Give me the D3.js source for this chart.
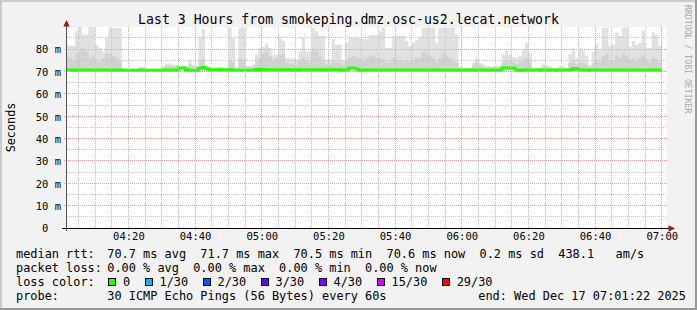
<!DOCTYPE html>
<html>
<head>
<meta charset="utf-8">
<script src="https://cdn.jsdelivr.net/npm/d3@7"></script>
<style>
  html, body { margin: 0; padding: 0; background: #f2f2f2; }
  svg { display: block; }
  text { font-family: 'DejaVu Sans Mono', monospace; white-space: pre; }
</style>
</head>
<body>
<div id="svg-container"></div>
<script>
// #Data (ms, one value per minute, 04:02 .. 07:00)
const titleText = 'Last 3 Hours from smokeping.dmz.osc-us2.lecat.network';
const xTickLabels = ['04:20', '04:40', '05:00', '05:20', '05:40', '06:00', '06:20', '06:40', '07:00'];
const yTickValues = [0, 10, 20, 30, 40, 50, 60, 70, 80];
const yTickLabels = ['0  ', '10 m', '20 m', '30 m', '40 m', '50 m', '60 m', '70 m', '80 m'];

const medianRtt = [
  70.7, 70.7, 70.7, 70.7, 70.7, 70.7, 70.7, 70.7, 70.7, 70.7,
  70.7, 70.7, 70.7, 70.7, 70.7, 70.7, 70.7, 70.6, 70.6, 70.6,
  70.6, 70.6, 70.6, 70.6, 70.6, 70.6, 70.6, 70.6, 70.6, 70.7,
  70.7, 70.7, 70.7, 70.7, 71.6, 71.6, 70.9, 70.6, 70.5, 70.5,
  71.5, 71.8, 71.2, 70.8, 70.7, 70.8, 70.8, 70.8, 70.8, 70.8,
  70.6, 70.6, 70.6, 70.6, 70.6, 70.6, 70.6, 70.9, 71.0, 70.9,
  70.8, 70.8, 70.8, 70.8, 70.8, 70.8, 70.8, 70.8, 70.8, 70.8,
  70.8, 70.8, 70.8, 70.8, 70.8, 70.8, 70.8, 70.8, 70.8, 70.8,
  70.8, 70.8, 70.8, 70.8, 70.8, 71.6, 71.6, 71.1, 70.7, 70.7,
  70.7, 70.7, 70.7, 70.7, 70.7, 70.7, 70.7, 70.7, 70.7, 70.7,
  70.7, 70.7, 70.7, 70.7, 70.7, 70.7, 70.7, 70.7, 70.7, 70.7,
  70.7, 70.7, 70.7, 70.7, 70.7, 70.7, 70.7, 70.7, 70.7, 70.7,
  70.7, 70.7, 70.7, 70.7, 70.7, 70.7, 70.7, 70.7, 70.7, 70.7,
  70.7, 71.6, 71.6, 71.6, 71.6, 70.7, 70.7, 70.7, 70.7, 70.7,
  70.7, 70.7, 70.7, 70.7, 70.7, 70.7, 70.7, 70.7, 70.7, 70.7,
  70.7, 70.7, 71.2, 71.2, 70.7, 70.7, 70.7, 70.7, 70.7, 70.7,
  70.7, 70.7, 70.7, 70.7, 70.7, 70.7, 70.7, 70.7, 70.7, 70.7,
  70.7, 70.7, 70.7, 70.7, 70.7, 70.7, 70.7, 70.7, 70.7
];

// upper edge of the inner (darker) smoke band
const smokeMid = [
  77, 76, 75, 78, 79, 80, 79, 76, 77, 75,
  74, 76, 78, 78, 77, 76, 75, 71.2, 71.1, 71.1,
  71.1, 71.1, 71.5, 71.5, 71.2, 71.1, 71.1, 71.1, 71.2, 71.8,
  72.3, 72.3, 72.2, 72.2, 71.9, 71.9, 71.8, 73, 72, 72,
  75, 76, 71.8, 71.6, 71.6, 71.5, 71.5, 71.4, 71.4, 75,
  74, 71.5, 76, 75, 72, 72, 72, 74, 76, 78,
  79, 77, 75, 76, 77, 78, 74, 73.5, 73, 73,
  75, 76, 75, 74, 80, 79, 77, 75, 73, 73,
  75, 74, 74, 73, 75, 76, 77, 76, 76, 75,
  76, 77, 77, 76, 76, 75, 74, 74, 76, 75,
  75, 74, 75, 74, 75, 76, 76, 79, 78, 77,
  76, 74, 76, 78, 77, 76, 75, 74, 71.3, 71.2,
  71.2, 71.2, 72.5, 74, 73, 72.3, 71.8, 71.8, 71.8, 71.8,
  71.8, 74, 75, 74.5, 74, 73.5, 74, 75, 76, 74,
  71.3, 71.3, 71.3, 72.3, 72, 71.8, 71.4, 71.4, 71.6, 71.6,
  71.4, 74, 75, 73.5, 74, 74, 73, 71.8, 73.5, 75,
  74, 77, 78, 75, 75, 77, 76, 78, 77, 75,
  76, 75, 76, 77, 75, 74, 76, 75, 74
];

// upper edge of the outer (light) smoke band = slowest ping
const smokeMax = [
  82, 81.5, 81.5, 88, 90, 86.5, 86.5, 90, 90, 82,
  80.5, 79, 85, 89.5, 89.5, 89.5, 89.5, 71.4, 71.3, 71.3,
  71.3, 71.3, 72, 72, 71.4, 71.3, 71.3, 71.3, 71.4, 72.5,
  73.6, 73.6, 73, 73, 72.5, 72.5, 72.5, 75, 73, 72.5,
  85.5, 89, 72.5, 72, 72, 72, 72, 71.8, 71.8, 89.5,
  85, 72, 89.5, 89.5, 72.5, 72.5, 73, 77.6, 80.5, 81,
  82.4, 80.5, 77.5, 77.5, 85.4, 83.6, 76, 76, 75.5, 75.4,
  79, 85, 79, 79, 89.6, 88, 86, 86, 75.4, 75.4,
  84.4, 82, 82, 75, 82.9, 85, 85, 85, 85, 84.4,
  84.4, 86.3, 86.3, 86.3, 88, 89.6, 80.6, 80.6, 86, 86,
  86, 86, 83.6, 81.4, 82.9, 84, 85, 89.6, 89.6, 89.6,
  89.6, 82.9, 89.6, 89.6, 89.6, 89.6, 89.6, 86.6, 72, 71.7,
  71.7, 71.7, 73.9, 75.8, 73.9, 73, 72.4, 72.4, 72.4, 72.4,
  72.4, 77.6, 79.5, 77.6, 76.5, 76.3, 76.9, 79.9, 82.9, 78.4,
  71.8, 71.8, 71.8, 73.5, 72.9, 72.4, 71.6, 71.6, 72.4, 72.4,
  71.6, 77.6, 80.3, 75.8, 80.6, 79.5, 76.9, 72.9, 79, 82.4,
  80, 89.6, 89.6, 81.4, 82, 87.4, 85.9, 89.6, 89.6, 81,
  83.6, 82, 82.9, 88.4, 80.6, 80.6, 87.4, 86.3, 81.4
];

const rttStats = ['70.7 ms avg', '71.7 ms max', '70.5 ms min', '70.6 ms now', '0.2 ms sd', '438.1   am/s'];
const lossStats = ['0.00 % avg', '0.00 % max', '0.00 % min', '0.00 % now'];
const lossLabels = ['0', '1/30', '2/30', '3/30', '4/30', '15/30', '29/30'];
const lossColors = ['#26ff00', '#00b8ff', '#0059ff', '#5e00ff', '#7e00ff', '#dd00ff', '#ff0000'];
const probeText = '30 ICMP Echo Pings (56 Bytes) every 60s';
const endText = 'end: Wed Dec 17 07:01:22 2025';

// #Set SVG dimensions
const w = 697;
const h = 310;
const plot = {left: 67, right: 667, top: 27, bottom: 228};
const charW = 7.15;

const svg = d3.select('#svg-container')
              .append('svg')
              .attr('width', w)
              .attr('height', h);

// #Background and shaded frame
svg.append('rect').attr('width', w).attr('height', h).attr('fill', '#f2f2f2');
svg.append('path').attr('d', 'M0,0H' + w + 'V2H2V' + h + 'H0Z').attr('fill', '#cbcbcb');
svg.append('path').attr('d', 'M' + w + ',' + h + 'H0V' + (h - 2) + 'H' + (w - 2) + 'V0H' + w + 'Z').attr('fill', '#999999');

svg.append('rect')
   .attr('x', plot.left)
   .attr('y', plot.top)
   .attr('width', plot.right - plot.left)
   .attr('height', plot.bottom - plot.top)
   .attr('fill', '#ffffff');

// #Scales
const day = new Date(2025, 11, 17);
const at = (hh, mm, ss) => new Date(2025, 11, 17, hh, mm, ss || 0);
const xScale = d3.scaleTime()
                 .domain([at(4, 1, 35), at(7, 1, 35)])
                 .range([plot.left, plot.right]);
const yScale = d3.scaleLinear()
                 .domain([0, 90])
                 .range([plot.bottom, 26.8]);

const stepEnds = d3.timeMinute.range(at(4, 2), at(7, 1));
const rows = stepEnds.map((t, i) => ({
  t0: d3.timeMinute.offset(t, -1),
  median: medianRtt[i],
  mid: smokeMid[i],
  max: smokeMax[i]
}));
// closing point so the last step gets its full width
rows.push(Object.assign({}, rows[rows.length - 1], {t0: stepEnds[stepEnds.length - 1]}));

svg.append('clipPath')
   .attr('id', 'clip')
   .append('rect')
   .attr('x', plot.left)
   .attr('y', plot.top)
   .attr('width', plot.right - plot.left)
   .attr('height', plot.bottom - plot.top);

const chart = svg.append('g').attr('clip-path', 'url(#clip)');

// #Smoke
const smokeArea = key => d3.area()
                           .curve(d3.curveStepAfter)
                           .x(d => xScale(d.t0))
                           .y0(d => yScale(d.median))
                           .y1(d => yScale(d[key]));
chart.append('path')
     .attr('d', smokeArea('max')(rows))
     .attr('fill', '#e1e1e1');
chart.append('path')
     .attr('d', smokeArea('mid')(rows))
     .attr('fill', '#d2d2d2');

// #Grid (dotted, over the smoke like rrdtool does)
const px = v => Math.floor(v) + 0.5;
const grid = svg.append('g').attr('stroke-dasharray', '1,1').attr('stroke-width', 1);
const minorTimes = d3.timeMinute.every(5).range(xScale.domain()[0], xScale.domain()[1]);
const majorTimes = xTickLabels.map(s => d3.timeParse('%H:%M')(s)).map(t => at(t.getHours(), t.getMinutes()));

grid.selectAll('.vminor')
    .data(minorTimes.filter(t => t.getMinutes() % 20 !== 0))
    .enter().append('line')
    .attr('x1', d => px(xScale(d))).attr('x2', d => px(xScale(d)))
    .attr('y1', plot.top).attr('y2', plot.bottom)
    .attr('stroke', '#c4c4c4');
grid.selectAll('.hminor')
    .data(d3.range(5, 90, 10))
    .enter().append('line')
    .attr('x1', plot.left).attr('x2', plot.right)
    .attr('y1', d => px(yScale(d))).attr('y2', d => px(yScale(d)))
    .attr('stroke', '#c4c4c4');
grid.selectAll('.vmajor')
    .data(majorTimes)
    .enter().append('line')
    .attr('x1', d => px(xScale(d))).attr('x2', d => px(xScale(d)))
    .attr('y1', plot.top).attr('y2', plot.bottom + 3)
    .attr('stroke', '#f39a9a');
grid.selectAll('.hmajor')
    .data(yTickValues.slice(1))
    .enter().append('line')
    .attr('x1', plot.left - 3).attr('x2', plot.right)
    .attr('y1', d => px(yScale(d))).attr('y2', d => px(yScale(d)))
    .attr('stroke', '#f39a9a');

// #Median line coloured by loss (no loss -> green)
chart.append('path')
     .attr('d', d3.line().curve(d3.curveStepAfter).x(d => xScale(d.t0)).y(d => yScale(d.median))(rows))
     .attr('fill', 'none')
     .attr('stroke', lossColors[0])
     .attr('stroke-width', 3);

// #Axes
svg.append('line')
   .attr('x1', plot.left - 5).attr('x2', plot.right + 2)
   .attr('y1', plot.bottom + 0.5).attr('y2', plot.bottom + 0.5)
   .attr('stroke', '#000000');
svg.append('line')
   .attr('x1', plot.left - 0.5).attr('x2', plot.left - 0.5)
   .attr('y1', plot.bottom + 3).attr('y2', plot.top - 1)
   .attr('stroke', '#555555');
svg.append('path')
   .attr('d', 'M' + (plot.left - 0.5) + ',20L' + (plot.left + 2.7) + ',26.5L' + (plot.left - 3.7) + ',26.5Z')
   .attr('fill', '#9b1c1c');
svg.append('path')
   .attr('d', 'M' + (plot.right + 8) + ',' + (plot.bottom + 0.5) + 'L' + (plot.right + 1.5) + ',' + (plot.bottom - 2.7) + 'L' + (plot.right + 1.5) + ',' + (plot.bottom + 3.7) + 'Z')
   .attr('fill', '#9b1c1c');

const yAxis = d3.axisLeft(yScale)
                .tickValues(yTickValues)
                .tickFormat((d, i) => yTickLabels[i])
                .tickSize(0)
                .tickPadding(0);
svg.append('g')
   .attr('transform', 'translate(61,0)')
   .call(yAxis)
   .call(g => g.select('.domain').remove())
   .selectAll('text')
   .attr('font-family', "'DejaVu Sans Mono', monospace")
   .attr('font-size', 10.5)
   .attr('fill', '#000000')
   .attr('dy', '0.36em');

const xAxis = d3.axisBottom(xScale)
                .tickValues(majorTimes)
                .tickFormat((d, i) => xTickLabels[i])
                .tickSize(0)
                .tickPadding(0);
svg.append('g')
   .attr('transform', 'translate(0,233)')
   .call(xAxis)
   .call(g => g.select('.domain').remove())
   .selectAll('text')
   .attr('font-family', "'DejaVu Sans Mono', monospace")
   .attr('font-size', 10.5)
   .attr('fill', '#000000')
   .attr('dy', '0.7em');

// #Titles
svg.append('text')
   .attr('x', w / 2)
   .attr('y', 24)
   .attr('text-anchor', 'middle')
   .attr('font-size', 13.2)
   .attr('fill', '#000000')
   .text(titleText);
svg.append('text')
   .attr('transform', 'translate(15,' + ((plot.top + plot.bottom) / 2) + ') rotate(-90)')
   .attr('text-anchor', 'middle')
   .attr('font-size', 11.8)
   .attr('fill', '#000000')
   .text('Seconds');
svg.append('text')
   .attr('transform', 'translate(685,5) rotate(90)')
   .attr('font-size', 8.2)
   .attr('fill', '#a8a8a8')
   .text('RRDTOOL / TOBI OETIKER');

// #Legend
const legend = svg.append('g')
                  .attr('font-size', 11.9)
                  .attr('fill', '#000000');
const col0 = 16;
const col1 = 107.3;
const rowY = [257.5, 271.8, 286.1, 300.4];

legend.append('text').attr('x', col0).attr('y', rowY[0]).text('median rtt:');
legend.append('text').attr('x', col1).attr('y', rowY[0]).text(rttStats.join('  '));
legend.append('text').attr('x', col0).attr('y', rowY[1]).text('packet loss:');
legend.append('text').attr('x', col1).attr('y', rowY[1]).text(lossStats.join('  '));
legend.append('text').attr('x', col0).attr('y', rowY[2]).text('loss color:');
legend.append('text').attr('x', col0).attr('y', rowY[3]).text('probe:');
legend.append('text').attr('x', col1).attr('y', rowY[3]).text(probeText);
legend.append('text').attr('x', 478.3).attr('y', rowY[3]).text(endText);

let cursor = 108;
const lossItems = lossLabels.map((label, i) => {
  const item = {label: label, color: lossColors[i], box: cursor, text: cursor + 15};
  cursor = item.text + label.length * charW + 14.4;
  return item;
});
const lossG = legend.selectAll('.loss')
                    .data(lossItems)
                    .enter()
                    .append('g');
lossG.append('rect')
     .attr('x', d => Math.round(d.box) + 0.5)
     .attr('y', rowY[2] - 7.6)
     .attr('width', 7)
     .attr('height', 7)
     .attr('fill', d => d.color)
     .attr('stroke', '#000000')
     .attr('stroke-width', 1);
lossG.append('text')
     .attr('x', d => d.text)
     .attr('y', rowY[2])
     .text(d => d.label);
</script>
</body>
</html>
